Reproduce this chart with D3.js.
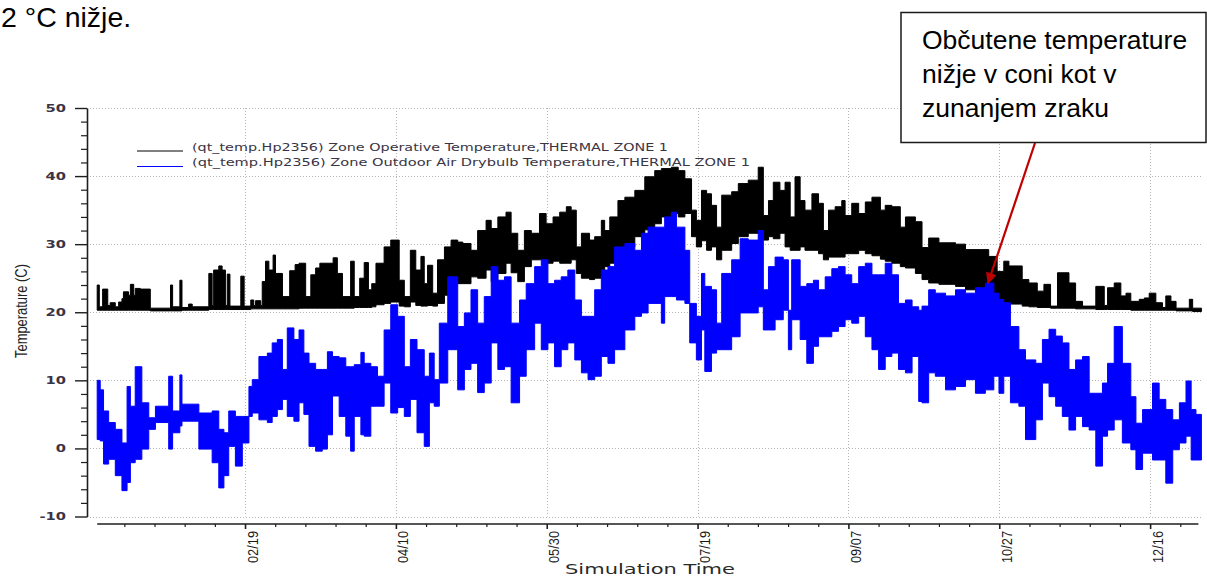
<!DOCTYPE html>
<html>
<head>
<meta charset="utf-8">
<script src="https://cdn.jsdelivr.net/npm/d3@7"></script>
<style>
  html, body { margin: 0; padding: 0; background: #ffffff; }
  svg { display: block; }
</style>
</head>
<body>
<svg id="chart" width="1207" height="577"></svg>
<script>
// ---------------- DATA ----------------
// The hourly signal is summarised as segments: each segment starts on the given
// day of the year (day 0 = 01/01) and holds the low / high value seen until the next one.

// Zone Operative Temperature (black), °C
const operativeDay = [
  0, 0.7, 1.8, 3.5, 4.3, 6.0, 7.1, 8.2, 8.7, 10.4,
  11.0, 12.1, 12.6, 14.3, 17.6, 24.3, 25.0, 27.4, 28.1, 30.3,
  31.5, 37.0, 38.1, 38.6, 40.3, 41.4, 42.5, 43.1, 44.0, 47.6,
  48.7, 50.9, 51.9, 52.5, 54.2, 54.7, 55.8, 56.9, 58.3, 59.1,
  61.4, 63.8, 65.6, 66.9, 69.1, 70.8, 72.4, 73.8, 78.2, 79.6,
  81.3, 84.0, 85.2, 87.0, 88.5, 89.9, 91.0, 92.4, 95.1, 97.3,
  100.1, 101.8, 103.8, 105.6, 107.3, 108.4, 109.5, 111.2, 112.8, 115.1,
  117.3, 119.5, 121.2, 123.9, 126.1, 128.9, 130.6, 132.8, 135.5, 137.2,
  139.4, 141.6, 143.9, 146.6, 148.8, 151.1, 153.3, 155.5, 157.1, 158.8,
  160.5, 163.2, 164.9, 167.1, 168.2, 169.9, 172.6, 174.9, 178.2, 181.5,
  184.8, 187.0, 190.3, 192.6, 194.8, 197.0, 198.6, 200.3, 202.0, 203.6,
  205.3, 207.0, 210.3, 212.5, 215.8, 219.1, 220.8, 222.5, 224.1, 226.3,
  228.0, 229.7, 231.3, 233.0, 234.6, 236.9, 239.1, 240.7, 242.4, 244.6,
  246.8, 247.9, 250.1, 252.4, 254.6, 256.8, 259.6, 261.2, 263.4, 266.2,
  267.9, 271.2, 273.4, 275.6, 279.0, 284.5, 287.8, 292.8, 295.5, 298.3,
  300.5, 302.2, 306.6, 308.8, 311.6, 313.8, 316.0, 318.3, 322.1, 324.3,
  326.6, 331.0, 333.8, 334.9, 337.1, 339.3, 341.0, 342.6, 345.4, 347.1,
  348.7, 350.9, 353.1, 354.2, 355.9, 357.6, 362.0, 363.1
];
const operativeLow = [
  20.3, 20.3, 20.3, 20.3, 20.3, 20.3, 20.3, 20.3, 20.3, 20.3,
  20.3, 20.3, 20.3, 20.3, 20.2, 20.2, 20.2, 20.2, 20.3, 20.3,
  20.3, 20.4, 20.4, 20.4, 20.4, 20.4, 20.4, 20.4, 20.4, 20.4,
  20.4, 20.5, 20.5, 20.5, 20.5, 20.5, 20.5, 20.5, 20.5, 20.5,
  20.5, 20.5, 20.5, 20.6, 20.6, 20.6, 20.6, 20.6, 20.6, 20.6,
  20.6, 20.6, 20.7, 20.7, 20.7, 20.7, 20.8, 21.1, 21.3, 21.5,
  20.9, 20.8, 21.5, 21.0, 20.9, 20.9, 21.0, 20.9, 21.3, 22.5,
  24.7, 24.2, 24.2, 25.2, 25.0, 26.2, 24.5, 25.7, 27.2, 25.8,
  24.5, 26.7, 27.7, 27.7, 27.2, 27.5, 27.2, 27.2, 27.7, 25.7,
  25.0, 24.8, 25.0, 25.2, 26.7, 27.2, 28.1, 29.6, 31.1, 32.1,
  33.0, 34.0, 34.5, 34.0, 34.5, 31.1, 29.6, 30.5, 29.1, 29.6,
  27.7, 29.1, 30.1, 31.1, 31.6, 32.0, 30.6, 31.1, 30.8, 31.6,
  29.6, 29.1, 29.1, 29.6, 29.1, 29.1, 28.6, 27.7, 28.1, 28.1,
  28.1, 28.6, 28.6, 29.1, 28.6, 28.3, 27.8, 27.5, 27.2, 26.7,
  26.5, 25.7, 24.8, 24.3, 24.1, 23.8, 23.3, 23.1, 22.8, 21.6,
  21.4, 21.2, 20.9, 20.8, 20.7, 20.7, 20.6, 20.6, 20.6, 20.5,
  20.5, 20.4, 20.4, 20.4, 20.4, 20.4, 20.4, 20.3, 20.3, 20.3,
  20.3, 20.3, 20.3, 20.3, 20.3, 20.2, 20.2, 20.1
];
const operativeHigh = [
  24.0, 20.8, 23.4, 21.0, 21.4, 20.8, 21.5, 22.0, 23.0, 22.5,
  24.1, 22.5, 23.5, 23.4, 20.6, 24.0, 20.8, 24.7, 20.7, 21.2,
  20.8, 25.7, 21.0, 26.2, 26.8, 26.2, 21.0, 25.6, 20.9, 25.3,
  20.9, 21.8, 21.0, 21.7, 21.0, 24.5, 27.5, 26.2, 28.4, 25.7,
  22.3, 26.1, 27.0, 27.2, 22.3, 25.5, 26.5, 27.2, 28.0, 25.7,
  22.3, 27.5, 22.3, 25.0, 27.3, 23.3, 24.2, 27.2, 29.6, 30.6,
  24.7, 22.3, 29.1, 26.2, 28.2, 24.2, 26.9, 22.8, 27.7, 29.6,
  30.6, 30.3, 30.1, 29.1, 32.0, 33.5, 32.3, 34.0, 34.7, 31.6,
  29.1, 32.0, 31.6, 34.5, 33.0, 34.0, 34.7, 35.5, 35.0, 29.6,
  31.6, 30.6, 31.1, 33.5, 32.0, 34.0, 36.4, 36.9, 37.9, 39.9,
  40.8, 41.1, 41.3, 40.8, 39.6, 35.0, 33.5, 37.9, 37.4, 35.7,
  32.5, 37.2, 37.7, 38.9, 39.4, 41.3, 34.2, 36.4, 39.1, 37.9,
  39.1, 34.0, 39.9, 36.4, 35.0, 37.4, 36.0, 32.0, 35.0, 35.5,
  36.4, 34.2, 36.0, 34.5, 36.2, 36.9, 35.0, 35.7, 35.5, 32.5,
  34.0, 33.3, 29.5, 30.9, 30.2, 30.0, 29.2, 29.2, 28.2, 26.0,
  27.5, 26.8, 24.8, 24.3, 23.1, 24.1, 20.9, 25.8, 24.3, 21.6,
  20.9, 23.8, 21.0, 23.6, 24.3, 22.4, 22.8, 21.6, 21.9, 22.1,
  22.8, 21.4, 20.7, 22.4, 21.6, 20.6, 21.9, 20.6
];

// Zone Outdoor Air Drybulb Temperature (blue), °C
const outdoorDay = [
  0, 1.0, 2.1, 3.8, 6.0, 8.2, 9.9, 11.0, 12.6, 14.8,
  17.1, 19.3, 23.7, 25.0, 27.4, 28.1, 33.7, 38.1, 40.3, 42.0,
  43.6, 45.8, 48.1, 50.3, 51.4, 53.6, 56.4, 58.0, 59.7, 61.4,
  63.0, 65.2, 66.9, 68.5, 70.2, 72.4, 74.6, 76.3, 78.0, 80.2,
  82.4, 84.0, 85.2, 87.4, 88.5, 90.7, 92.9, 95.1, 97.3, 99.6,
  101.8, 103.8, 106.0, 108.4, 110.1, 111.7, 113.4, 116.2, 119.5, 121.7,
  123.9, 126.1, 128.3, 130.6, 132.8, 135.0, 137.2, 140.0, 142.2, 145.0,
  147.2, 149.4, 151.6, 153.8, 156.0, 158.3, 160.5, 162.7, 164.9, 167.1,
  169.3, 171.5, 174.9, 178.2, 180.4, 182.6, 187.0, 188.1, 190.3, 192.0,
  194.8, 196.4, 198.6, 200.3, 201.4, 203.6, 205.3, 207.0, 210.3, 213.1,
  215.8, 219.1, 220.8, 222.5, 224.7, 227.4, 229.1, 230.2, 233.0, 235.2,
  237.4, 239.1, 241.3, 243.5, 245.7, 247.9, 250.1, 252.4, 254.6, 256.8,
  259.0, 261.2, 263.4, 265.6, 267.9, 270.1, 272.3, 273.4, 275.6, 277.8,
  281.2, 284.5, 287.8, 291.1, 294.4, 297.2, 298.9, 300.5, 302.7, 305.5,
  307.7, 311.1, 313.3, 315.5, 317.7, 319.9, 322.1, 324.3, 326.6, 328.8,
  331.0, 333.2, 334.9, 337.1, 339.8, 342.6, 344.3, 346.5, 349.8, 352.0,
  354.2, 356.5, 358.7, 360.9, 362.6, 364.2
];
const outdoorLow = [
  1.3, 1.1, -2.3, -1.6, -4.0, -6.2, -5.0, -2.1, -1.6, -0.1,
  2.8, 3.8, -0.1, 2.3, 3.3, 4.0, -0.1, -2.1, -5.8, -4.0,
  0.3, -2.6, 0.8, 4.7, 5.2, 4.2, 3.8, 4.7, 5.7, 7.2,
  4.7, 4.0, 6.7, 5.0, 0.3, -0.4, -0.1, 2.0, 7.7, 4.7,
  1.8, -0.4, 4.7, 2.0, 1.8, 6.2, 6.2, 9.6, 5.2, 6.0,
  4.7, 7.2, 2.3, 0.3, 6.7, 6.2, 9.6, 14.5, 8.6, 11.6,
  12.5, 8.2, 9.6, 15.5, 11.6, 12.0, 6.7, 10.6, 14.5, 18.4,
  14.5, 15.5, 12.0, 14.5, 15.5, 13.0, 11.1, 10.1, 10.6, 13.5,
  12.5, 14.5, 17.4, 19.4, 19.9, 21.3, 18.4, 22.3, 22.3, 21.8,
  21.3, 15.5, 13.0, 17.4, 11.3, 14.0, 14.5, 14.5, 16.4, 19.9,
  19.9, 20.8, 17.4, 17.4, 18.9, 20.3, 14.5, 18.9, 16.0, 12.5,
  15.0, 16.4, 16.4, 17.2, 17.9, 18.9, 18.4, 19.4, 16.4, 14.5,
  11.6, 13.5, 14.0, 11.6, 11.1, 13.5, 6.9, 6.7, 11.1, 10.6,
  8.6, 9.1, 10.1, 8.1, 8.6, 10.6, 8.1, 10.6, 6.7, 6.2,
  1.3, 4.2, 9.6, 7.6, 6.2, 4.7, 2.7, 4.7, 3.2, 2.7,
  -2.6, 1.8, 2.7, 4.2, 0.8, -0.2, -3.1, -0.7, -1.7, -1.7,
  -5.1, -0.2, 0.8, 1.8, -1.7, -1.7
];
const outdoorHigh = [
  10.0, 8.6, 5.5, 3.8, 2.8, 0.8, 9.1, 6.2, 12.0, 6.7,
  4.5, 6.2, 10.6, 5.5, 10.8, 6.5, 5.2, 5.5, 2.8, 2.3,
  5.5, 4.7, 4.7, 9.1, 10.1, 13.5, 14.0, 15.5, 16.0, 11.6,
  17.7, 16.0, 17.4, 14.0, 12.5, 11.6, 11.6, 14.2, 13.5, 13.3,
  12.0, 12.0, 12.3, 14.1, 12.5, 12.0, 10.6, 17.4, 21.1, 19.4,
  12.0, 16.0, 14.5, 10.6, 14.0, 10.1, 18.4, 25.2, 17.9, 19.9,
  23.3, 18.4, 22.3, 26.7, 24.7, 25.2, 18.4, 21.8, 24.2, 26.7,
  27.7, 24.2, 24.7, 25.2, 26.2, 21.8, 19.4, 19.4, 23.3, 26.2,
  26.7, 29.6, 30.1, 29.1, 31.6, 32.5, 32.5, 34.0, 34.7, 32.5,
  29.1, 21.3, 19.4, 25.7, 23.8, 23.3, 18.4, 25.7, 27.7, 30.8,
  30.6, 32.0, 23.3, 26.7, 28.1, 27.7, 20.3, 27.7, 23.8, 24.2,
  24.7, 23.3, 25.2, 26.4, 26.7, 25.5, 24.2, 26.7, 27.2, 25.5,
  25.5, 27.2, 25.5, 21.3, 21.8, 20.8, 20.3, 20.9, 23.3, 22.8,
  22.4, 23.3, 22.8, 23.6, 24.3, 22.8, 21.9, 21.4, 17.9, 14.5,
  13.0, 12.5, 16.0, 17.5, 16.5, 15.5, 11.6, 13.0, 13.5, 8.1,
  8.1, 9.6, 12.5, 17.9, 12.5, 7.6, 3.7, 5.7, 9.6, 7.2,
  5.7, 4.2, 6.7, 9.9, 5.7, 5.0
];

// Axes
const yearEndDay = 366;
const xTickDays = [49, 99, 149, 199, 249, 299, 349];
const xTickLabels = ["02/19", "04/10", "05/30", "07/19", "09/07", "10/27", "12/16"];
const yTicks = [-10, 0, 10, 20, 30, 40, 50];
const yTickLabels = ["-10", "0", "10", "20", "30", "40", "50"];

// Texts
const legendLabels = [
  "(qt_temp.Hp2356) Zone Operative Temperature,THERMAL ZONE 1",
  "(qt_temp.Hp2356) Zone Outdoor Air Drybulb Temperature,THERMAL ZONE 1"
];
const seriesColors = ["#000000", "#0000ff"];
const headerText = "2 °C nižje.";
const annotationLines = ["Občutene temperature", "nižje v coni kot v", "zunanjem zraku"];
const annotationTarget = { day: 295.3, value: 24.3 };
const xTitle = "Simulation Time";
const yTitle = "Temperature (C)";

// ---------------- DRAWING ----------------
const svg = d3.select("#chart");
const x = d3.scaleLinear().domain([0, yearEndDay]).range([97.2, 1201.4]);
const y = d3.scaleLinear().domain([-10, 50]).range([516.5, 108]);
const axisX = 87;      // y-axis line position
const axisY = 524;     // x-axis line position

// Header text (document text above the chart)
svg.append("text")
  .attr("x", 1).attr("y", 27)
  .attr("font-family", "Liberation Sans, Arial, sans-serif")
  .attr("font-size", 28.5)
  .attr("fill", "#000")
  .text(headerText);

// Grid
const grid = svg.append("g")
  .attr("stroke", "#b4b4b4")
  .attr("stroke-width", 1)
  .attr("stroke-dasharray", "1,2");
grid.selectAll("line.h").data(yTicks).join("line")
  .attr("class", "h")
  .attr("x1", axisX).attr("x2", x(yearEndDay))
  .attr("y1", d => Math.round(y(d)) + 0.5).attr("y2", d => Math.round(y(d)) + 0.5);
grid.selectAll("line.v").data(xTickDays).join("line")
  .attr("class", "v")
  .attr("x1", d => Math.round(x(d)) + 0.5).attr("x2", d => Math.round(x(d)) + 0.5)
  .attr("y1", y(50)).attr("y2", y(-10));

// Series bands
function band(days, lows, highs) {
  const pts = days.map((d, i) => ({ day: d, lo: lows[i], hi: highs[i] }));
  const last = pts[pts.length - 1];
  pts.push({ day: yearEndDay, lo: last.lo, hi: last.hi });
  return pts;
}
const area = d3.area()
  .curve(d3.curveStepAfter)
  .x(d => x(d.day))
  .y0(d => y(d.lo))
  .y1(d => y(d.hi));

svg.append("path")
  .datum(band(operativeDay, operativeLow, operativeHigh))
  .attr("d", area)
  .attr("fill", seriesColors[0])
  .attr("stroke", seriesColors[0])
  .attr("stroke-width", 1);

svg.append("path")
  .datum(band(outdoorDay, outdoorLow, outdoorHigh))
  .attr("d", area)
  .attr("fill", seriesColors[1])
  .attr("stroke", seriesColors[1])
  .attr("stroke-width", 1);

// Y axis
const yMinor = d3.range(-10, 51, 2).filter(v => v % 10 !== 0);
const yAxisG = svg.append("g").attr("transform", `translate(${axisX},0)`)
  .call(d3.axisLeft(y).tickValues(yTicks).tickSize(12).tickSizeOuter(0).tickPadding(9)
    .tickFormat((d, i) => yTickLabels[i]));
yAxisG.select(".domain").attr("stroke", "#1e1e1e").attr("stroke-width", 1.6);
yAxisG.selectAll(".tick line").attr("stroke", "#1e1e1e").attr("stroke-width", 1.4);
yAxisG.selectAll(".tick text")
  .attr("font-family", "DejaVu Sans, Verdana, sans-serif")
  .attr("font-size", 10.5)
  .attr("font-weight", "bold")
  .attr("fill", "#3a3444")
  .each(function () {
    const len = this.getComputedTextLength();
    d3.select(this).attr("textLength", len * 1.4).attr("lengthAdjust", "spacingAndGlyphs");
  });
const yMinorG = svg.append("g").attr("transform", `translate(${axisX},0)`)
  .call(d3.axisLeft(y).tickValues(yMinor).tickSize(6).tickSizeOuter(0).tickFormat(""));
yMinorG.select(".domain").remove();
yMinorG.selectAll(".tick line").attr("stroke", "#1e1e1e").attr("stroke-width", 1.2);

// X axis
svg.append("line")
  .attr("x1", x(0)).attr("x2", x(365))
  .attr("y1", axisY).attr("y2", axisY)
  .attr("stroke", "#1e1e1e").attr("stroke-width", 1.6);
const xMinor = d3.range(9, 366, 10).filter(d => !xTickDays.includes(d));
const xMinorG = svg.append("g").attr("transform", `translate(0,${axisY})`)
  .call(d3.axisBottom(x).tickValues(xMinor).tickSize(3).tickSizeOuter(0).tickFormat(""));
xMinorG.select(".domain").remove();
xMinorG.selectAll(".tick line").attr("stroke", "#1e1e1e").attr("stroke-width", 1.2);
const xAxisG = svg.append("g").attr("transform", `translate(0,${axisY})`)
  .call(d3.axisBottom(x).tickValues(xTickDays).tickSize(5).tickSizeOuter(0)
    .tickFormat((d, i) => xTickLabels[i]));
xAxisG.select(".domain").remove();
xAxisG.selectAll(".tick line").attr("stroke", "#1e1e1e").attr("stroke-width", 1.6);
xAxisG.selectAll(".tick text")
  .attr("transform", "rotate(-90)")
  .attr("text-anchor", "end")
  .attr("x", -7)
  .attr("y", 12)
  .attr("dy", "0")
  .attr("font-family", "Liberation Sans Narrow, Arial Narrow, Liberation Sans, sans-serif")
  .attr("font-size", 15)
  .attr("fill", "#1a1a1a")
  .attr("textLength", 32)
  .attr("lengthAdjust", "spacingAndGlyphs");

// Axis titles
svg.append("text")
  .attr("x", 650).attr("y", 574)
  .attr("text-anchor", "middle")
  .attr("font-family", "DejaVu Sans, Verdana, sans-serif")
  .attr("font-size", 14.5)
  .attr("fill", "#2a2a2a")
  .attr("textLength", 170)
  .attr("lengthAdjust", "spacingAndGlyphs")
  .text(xTitle);
svg.append("text")
  .attr("transform", "translate(27,311) rotate(-90)")
  .attr("text-anchor", "middle")
  .attr("font-family", "Liberation Sans Narrow, Arial Narrow, Liberation Sans, sans-serif")
  .attr("font-size", 16)
  .attr("fill", "#222")
  .attr("textLength", 94)
  .attr("lengthAdjust", "spacingAndGlyphs")
  .text(yTitle);

// Legend
const legendRows = [
  { label: legendLabels[0], color: seriesColors[0], y: 151, len: 476 },
  { label: legendLabels[1], color: seriesColors[1], y: 166.5, len: 558 }
];
const lg = svg.append("g");
lg.selectAll("line").data(legendRows).join("line")
  .attr("x1", 137).attr("x2", 183)
  .attr("y1", d => d.y).attr("y2", d => d.y)
  .attr("stroke", d => d.color).attr("stroke-width", 1);
lg.selectAll("text").data(legendRows).join("text")
  .attr("x", 192).attr("y", d => d.y - 0.5)
  .attr("font-family", "DejaVu Sans, Verdana, sans-serif")
  .attr("font-size", 10)
  .attr("fill", "#3a3444")
  .attr("textLength", d => d.len)
  .attr("lengthAdjust", "spacingAndGlyphs")
  .text(d => d.label);

// Annotation box + arrow
svg.append("defs").append("marker")
  .attr("id", "arrowHead")
  .attr("viewBox", "0 0 10 10")
  .attr("refX", 9).attr("refY", 5)
  .attr("markerWidth", 6).attr("markerHeight", 5)
  .attr("markerUnits", "strokeWidth")
  .attr("orient", "auto")
  .append("path").attr("d", "M0,0 L10,5 L0,10 z").attr("fill", "#c00000");

svg.append("line")
  .attr("x1", 1035).attr("y1", 143)
  .attr("x2", x(annotationTarget.day)).attr("y2", y(annotationTarget.value))
  .attr("stroke", "#c00000").attr("stroke-width", 2.2)
  .attr("marker-end", "url(#arrowHead)");

svg.append("rect")
  .attr("x", 901).attr("y", 12.5)
  .attr("width", 305).attr("height", 130)
  .attr("fill", "#ffffff")
  .attr("stroke", "#1a1a1a").attr("stroke-width", 1.5);
svg.append("g").selectAll("text").data(annotationLines).join("text")
  .attr("x", 922)
  .attr("y", (d, i) => 48.5 + i * 34.4)
  .attr("font-family", "Liberation Sans, Arial, sans-serif")
  .attr("font-size", 26.5)
  .attr("fill", "#000")
  .text(d => d);
</script>
</body>
</html>
